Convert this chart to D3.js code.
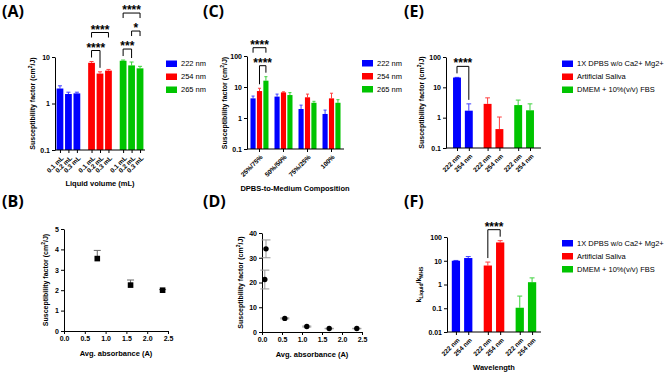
<!DOCTYPE html>
<html>
<head>
<meta charset="utf-8">
<script src="https://cdn.jsdelivr.net/npm/d3@7"></script>
<style>
  body { margin: 0; background: #fff; }
  svg { font-family: "Liberation Sans", Arial, sans-serif; }
</style>
</head>
<body>
<svg id="fig" width="668" height="373"></svg>
<script>
// ---- data ----
const nmSeries = ["222 nm", "254 nm", "265 nm"];
const volLabels = ["0.1 mL", "0.2 mL", "0.3 mL"];
// panel A: rows = wavelength, cols = volume
const volMean = [[2.1, 1.6, 1.65], [7.5, 4.4, 5.1], [8.3, 6.6, 5.7]];
const volErr  = [[0.3, 0.15, 0.1], [0.5, 0.4, 0.3], [0.3, 1.2, 0.6]];

// panel C: rows = composition, cols = wavelength
const compLabels = ["25%/75%", "50%/50%", "75%/25%", "100%"];
const compMean = [[4.3, 7.4, 16], [4.9, 6.7, 5.5], [1.95, 4.65, 3.1], [1.35, 4.3, 3.1]];
const compErr  = [[0.8, 1.7, 5.5], [1.0, 0.3, 1.1], [0.65, 1.25, 0.35], [0.45, 2.0, 0.8]];

// panels E, F: rows = medium, cols = wavelength
const mediaSeries = ["1X DPBS w/o Ca2+ Mg2+", "Artificial Saliva", "DMEM + 10%(v/v) FBS"];
const mediaNm = ["222 nm", "254 nm"];
const sfMean = [[21, 1.7], [2.85, 0.42], [2.6, 1.75]];
const sfErr  = [[0.3, 1.15], [1.65, 0.63], [1.2, 1.1]];
const ratioMean = [[10, 13], [6.3, 59], [0.105, 1.25]];
const ratioErr  = [[0.3, 2], [2.5, 11], [0.22, 0.65]];

// panels B, D: absorbance vs susceptibility
const absB = [0.8, 1.6, 2.37];
const sfB = [3.55, 2.25, 2.0];
const sfBErr = [0.4, 0.25, 0.03];
const absD = [0.07, 0.1, 0.57, 1.12, 1.68, 2.37];
const sfD = [21.2, 33.6, 5.5, 2.2, 1.4, 1.4];
const sfDErr = [3.8, 3.6, 0.2, 0.2, 0.1, 0.1];

// significance brackets: group, bar a, bar b, tier, label
const sigA = [
  {g: 1, a: 0, b: 1, tier: 0, s: "****"},
  {g: 1, a: 0, b: 2, tier: 1, s: "****"},
  {g: 2, a: 0, b: 1, tier: 0, s: "***"},
  {g: 2, a: 1, b: 2, tier: 1, s: "*"},
  {g: 2, a: 0, b: 2, tier: 2, s: "****"}
];
const sigC = [
  {g: 0, a: 1, b: 2, tier: 0, s: "****"},
  {g: 0, a: 0, b: 2, tier: 1, s: "****"}
];
const sigE = [{g: 0, a: 0, b: 1, tier: 0, s: "****"}];
const sigF = [{g: 1, a: 0, b: 1, tier: 0, s: "****"}];

const colors = ["#0000ff", "#ff0000", "#00c400"];
const svg = d3.select("#fig");

function fontAxis(g, size) {
  g.attr("font-family", null).attr("font-size", size).attr("font-weight", "bold");
  g.selectAll("text").attr("fill", "#000");
  g.selectAll("line, path").attr("stroke", "#000").attr("stroke-width", 1);
}

function yTitle(x, y, main, sup, rest) {
  const t = svg.append("text")
    .attr("transform", "translate(" + x + "," + y + ") rotate(-90)")
    .attr("text-anchor", "middle")
    .attr("font-size", 7).attr("font-weight", "bold");
  t.append("tspan").text(main);
  if (sup) {
    t.append("tspan").attr("dy", -3).attr("font-size", 5).text(sup);
    t.append("tspan").attr("dy", 3).text(rest);
  }
  return t;
}

function xTitle(x, y, txt) {
  svg.append("text").attr("x", x).attr("y", y)
    .attr("text-anchor", "middle")
    .attr("font-size", 7.5).attr("font-weight", "bold")
    .text(txt);
}

function legend(x, y0, names) {
  const lg = svg.append("g");
  names.forEach(function(n, i) {
    lg.append("rect").attr("x", x).attr("y", y0 + i * 13 - 3).attr("width", 11).attr("height", 6.5).attr("fill", colors[i]);
    lg.append("text").attr("x", x + 15).attr("y", y0 + i * 13 + 2.7)
      .attr("font-size", 7.5).text(n);
  });
}

function barPanel(p) {
  const y = d3.scaleLog().domain(p.yDomain).range(p.yRange);
  const gx = d3.scaleBand().domain(d3.range(p.mean.length)).range(p.xRange)
    .paddingInner(p.padG).paddingOuter(p.padO);
  const ix = d3.scaleBand().domain(d3.range(p.mean[0].length)).range([0, gx.bandwidth()])
    .paddingInner(p.padI);
  const bars = [];
  p.mean.forEach(function(row, g) {
    row.forEach(function(v, i) { bars.push({g: g, i: i, v: v, e: p.err[g][i]}); });
  });
  const cx = d => gx(d.g) + ix(d.i) + ix.bandwidth() / 2;
  const bw = ix.bandwidth();
  const base = p.yDomain[0];
  const plot = svg.append("g");

  plot.selectAll("rect").data(bars).join("rect")
    .attr("x", d => cx(d) - bw / 2).attr("width", bw)
    .attr("y", d => y(d.v)).attr("height", d => y(base) - y(d.v))
    .attr("fill", p.color);

  const eb = plot.selectAll("g.eb").data(bars).join("g").attr("class", "eb")
    .attr("stroke", p.color).attr("stroke-width", 1).attr("opacity", 0.75);
  eb.append("line").attr("x1", cx).attr("x2", cx)
    .attr("y1", d => y(d.v)).attr("y2", d => y(d.v + d.e));
  eb.append("line").attr("x1", d => cx(d) - bw * 0.3).attr("x2", d => cx(d) + bw * 0.3)
    .attr("y1", d => y(d.v + d.e)).attr("y2", d => y(d.v + d.e));

  // y axis
  svg.append("g").attr("transform", "translate(" + p.xRange[0] + ",0)")
    .call(d3.axisLeft(y).tickValues(p.yTicks).tickFormat(d3.format("~g")).tickSize(3).tickSizeOuter(0).tickPadding(2))
    .call(fontAxis, 7);

  // x axis
  let xa;
  if (p.tickAtGroup) {
    xa = d3.axisBottom(gx).tickFormat(i => p.tickLabels[i]);
  } else {
    const ord = d3.scaleOrdinal().domain(bars.map(d => d.g + "-" + d.i)).range(bars.map(cx));
    xa = d3.axisBottom(ord).tickFormat(k => p.tickLabels[+k.split("-")[1]]);
  }
  const xg = svg.append("g").attr("transform", "translate(0," + y(base) + ")")
    .call(xa.tickSize(3).tickSizeOuter(0))
    .call(fontAxis, 6.5);
  xg.select(".domain").remove();
  xg.append("line").attr("x1", p.xRange[0]).attr("x2", p.xRange[1]).attr("stroke", "#000");
  xg.selectAll(".tick text")
    .attr("text-anchor", "end").attr("x", 0).attr("y", 0).attr("dy", "0.35em")
    .attr("transform", "translate(2,7) rotate(-45)");

  // significance brackets
  const find = (g, i) => bars.find(d => d.g === g && d.i === i);
  (p.sig || []).forEach(function(s) {
    const members = bars.filter(d => d.g === s.g);
    const by = d3.min(members, d => y(d.v + d.e)) - 11 - s.tier * 18;
    const A = find(s.g, s.a), B = find(s.g, s.b);
    const xa1 = cx(A), xb1 = cx(B);
    const la = s.tier === 0 ? y(A.v + A.e) - 4 : by + 5;
    const lb = s.tier === 0 ? y(B.v + B.e) - 4 : by + 5;
    svg.append("path")
      .attr("d", "M" + xa1 + "," + la + "V" + by + "H" + xb1 + "V" + lb)
      .attr("fill", "none").attr("stroke", "#000").attr("stroke-width", 1);
    svg.append("text").attr("x", (xa1 + xb1) / 2).attr("y", by + 1)
      .attr("text-anchor", "middle").attr("font-size", 12).attr("font-weight", "bold")
      .text(s.s);
  });
}

function scatterPanel(p) {
  const x = d3.scaleLinear().domain([0, 2.5]).range(p.xRange);
  const y = d3.scaleLinear().domain(p.yDomain).range(p.yRange);
  svg.append("g").attr("transform", "translate(0," + p.yRange[0] + ")")
    .call(d3.axisBottom(x).tickValues([0, 0.5, 1, 1.5, 2, 2.5]).tickFormat(d3.format(".1f")).tickSize(3).tickSizeOuter(0).tickPadding(2))
    .call(fontAxis, 7);
  svg.append("g").attr("transform", "translate(" + p.xRange[0] + ",0)")
    .call(d3.axisLeft(y).tickValues(p.yTicks).tickFormat(d3.format("d")).tickSize(3).tickSizeOuter(0).tickPadding(2))
    .call(fontAxis, 7);
  const pts = p.xs.map((v, i) => ({x: v, y: p.ys[i], e: p.es[i]}));
  const eb = svg.append("g").attr("stroke", p.errColor).attr("stroke-width", 1);
  pts.forEach(function(d) {
    const lo = p.both ? d.y - d.e : d.y;
    eb.append("line").attr("x1", x(d.x)).attr("x2", x(d.x)).attr("y1", y(lo)).attr("y2", y(d.y + d.e));
    eb.append("line").attr("x1", x(d.x) - p.cap).attr("x2", x(d.x) + p.cap)
      .attr("y1", y(d.y + d.e)).attr("y2", y(d.y + d.e));
    if (p.both) {
      eb.append("line").attr("x1", x(d.x) - p.cap).attr("x2", x(d.x) + p.cap)
        .attr("y1", y(d.y - d.e)).attr("y2", y(d.y - d.e));
    }
  });
  if (p.square) {
    svg.append("g").selectAll("rect").data(pts).join("rect")
      .attr("x", d => x(d.x) - 2.8).attr("y", d => y(d.y) - 2.8)
      .attr("width", 5.6).attr("height", 5.6).attr("fill", "#000");
  } else {
    svg.append("g").selectAll("circle").data(pts).join("circle")
      .attr("cx", d => x(d.x)).attr("cy", d => y(d.y)).attr("r", 2.7).attr("fill", "#000");
  }
}

// ---- panel A ----
barPanel({
  mean: volMean, err: volErr, yDomain: [0.1, 10], yRange: [150, 57], yTicks: [0.1, 1, 10],
  xRange: [55, 145], padG: 0.25, padO: 0.05, padI: 0.2,
  color: d => colors[d.g], tickLabels: volLabels, sig: sigA
});
yTitle(35, 103.5, "Susceptibility factor (cm", "2", "/J)");
xTitle(100, 186, "Liquid volume (mL)");
legend(166, 63.5, nmSeries);

// ---- panel C ----
barPanel({
  mean: compMean, err: compErr, yDomain: [0.1, 100], yRange: [149, 56], yTicks: [0.1, 1, 10, 100],
  xRange: [247, 344], padG: 0.25, padO: 0.145, padI: 0.2,
  color: d => colors[d.i], tickLabels: compLabels, tickAtGroup: true, sig: sigC
});
yTitle(226.5, 103, "Susceptibility factor (cm", "2", "/J)");
xTitle(295, 191, "DPBS-to-Medium Composition");
legend(362, 63, nmSeries);

// ---- panel E ----
barPanel({
  mean: sfMean, err: sfErr, yDomain: [0.1, 100], yRange: [148, 57], yTicks: [0.1, 1, 10, 100],
  xRange: [446, 541], padG: 0.355, padO: 0.23, padI: 0.33,
  color: d => colors[d.g], tickLabels: mediaNm, sig: sigE
});
yTitle(424, 102.5, "Susceptibility factor (cm", "2", "/J)");
legend(562, 63.5, mediaSeries);

// ---- panel F ----
barPanel({
  mean: ratioMean, err: ratioErr, yDomain: [0.01, 100], yRange: [332, 237], yTicks: [0.01, 0.1, 1, 10, 100],
  xRange: [447, 541], padG: 0.355, padO: 0.15, padI: 0.33,
  color: d => colors[d.g], tickLabels: mediaNm, sig: sigF
});
{
  const t = svg.append("text")
    .attr("transform", "translate(421,284.5) rotate(-90)")
    .attr("text-anchor", "middle").attr("font-size", 7).attr("font-weight", "bold");
  t.append("tspan").text("k");
  t.append("tspan").attr("dy", 2).attr("font-size", 5).text("Liquid");
  t.append("tspan").attr("dy", -2).text("/k");
  t.append("tspan").attr("dy", 2).attr("font-size", 5).text("MHS");
}
xTitle(494, 369.5, "Wavelength");
legend(562, 243, mediaSeries);

// ---- panel B ----
scatterPanel({
  xs: absB, ys: sfB, es: sfBErr, xRange: [64, 168], yDomain: [0, 5], yRange: [331, 229],
  yTicks: [0, 1, 2, 3, 4, 5], errColor: "#666", cap: 3.5, both: false, square: true
});
yTitle(48, 280, "Susceptibility factor (cm", "2", "/J)");
xTitle(116, 356, "Avg. absorbance (A)");

// ---- panel D ----
scatterPanel({
  xs: absD, ys: sfD, es: sfDErr, xRange: [262, 362], yDomain: [0, 40], yRange: [332, 233],
  yTicks: [0, 10, 20, 30, 40], errColor: "#999", cap: 4.5, both: true, square: false
});
yTitle(243, 282.5, "Susceptibility factor (cm", "2", "/J)");
xTitle(312, 357, "Avg. absorbance (A)");

// ---- panel letters ----
const letters = ["(A)", "(B)", "(C)", "(D)", "(E)", "(F)"];
const letterX = [2, 2, 203, 203, 404, 404];
const letterY = [17, 207, 17, 207, 17, 207];
svg.append("g").selectAll("text").data(letters).join("text")
  .attr("x", (d, i) => letterX[i]).attr("y", (d, i) => letterY[i])
  .attr("font-family", "'Open Sans', sans-serif").attr("font-size", 16).attr("font-weight", "bold")
  .text(d => d);
</script>
</body>
</html>
